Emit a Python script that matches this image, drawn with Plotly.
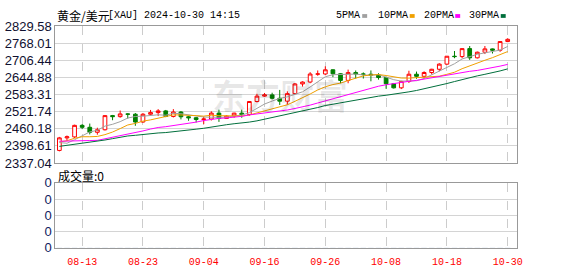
import plotly.graph_objects as go
import pandas as pd

# ---------------- data ----------------
dates = ["08-08", "08-09", "08-12", "08-13", "08-14", "08-15", "08-16", "08-19", "08-20", "08-21",
         "08-22", "08-23", "08-26", "08-27", "08-28", "08-29", "08-30", "09-02", "09-03", "09-04",
         "09-05", "09-06", "09-09", "09-10", "09-11", "09-12", "09-13", "09-16", "09-17", "09-18",
         "09-19", "09-20", "09-23", "09-24", "09-25", "09-26", "09-27", "09-30", "10-01", "10-02",
         "10-03", "10-04", "10-07", "10-08", "10-09", "10-10", "10-11", "10-14", "10-15", "10-16",
         "10-17", "10-18", "10-21", "10-22", "10-23", "10-24", "10-25", "10-28", "10-29", "10-30"]

opens = [2382.4, 2427.5, 2431.0, 2472.5, 2465.6, 2447.6, 2456.7, 2507.6, 2504.0, 2513.7,
         2512.6, 2484.6, 2512.5, 2518.5, 2524.6, 2504.6, 2520.6, 2503.4, 2499.9, 2493.6,
         2495.4, 2516.6, 2497.5, 2505.9, 2516.5, 2511.6, 2558.4, 2577.7, 2582.1, 2569.9,
         2559.6, 2586.6, 2621.5, 2628.4, 2656.9, 2657.4, 2672.4, 2658.1, 2634.3, 2662.4,
         2657.4, 2656.5, 2653.5, 2644.6, 2622.2, 2607.5, 2630.6, 2656.5, 2649.0, 2662.6,
         2674.3, 2692.8, 2721.2, 2719.9, 2748.6, 2715.5, 2735.6, 2747.6, 2742.8, 2774.0]

highs = [2431.0, 2436.0, 2475.0, 2477.0, 2479.0, 2464.0, 2509.0, 2510.0, 2526.0, 2516.0,
         2517.0, 2517.0, 2528.0, 2531.0, 2528.0, 2531.0, 2524.0, 2507.0, 2503.0, 2503.0,
         2523.0, 2529.0, 2509.0, 2518.0, 2529.0, 2560.0, 2586.0, 2589.0, 2590.0, 2600.0,
         2595.0, 2625.0, 2631.0, 2664.0, 2670.0, 2685.0, 2674.0, 2660.0, 2673.0, 2670.0,
         2663.0, 2670.0, 2660.0, 2648.0, 2625.0, 2633.0, 2669.0, 2666.0, 2667.0, 2676.0,
         2696.0, 2722.0, 2740.0, 2749.0, 2758.0, 2738.0, 2758.0, 2749.0, 2775.0, 2786.0]

lows = [2379.0, 2417.0, 2427.0, 2459.0, 2440.0, 2439.0, 2454.0, 2491.0, 2500.0, 2497.0,
        2471.0, 2482.0, 2510.0, 2506.0, 2502.0, 2501.0, 2494.0, 2489.0, 2483.0, 2477.0,
        2490.0, 2485.0, 2496.0, 2500.0, 2500.0, 2507.0, 2555.0, 2575.0, 2566.0, 2546.0,
        2547.0, 2584.0, 2612.0, 2624.0, 2651.0, 2653.0, 2646.0, 2624.0, 2624.0, 2641.0,
        2641.0, 2631.0, 2637.0, 2604.0, 2605.0, 2603.0, 2625.0, 2640.0, 2641.0, 2656.0,
        2667.0, 2690.0, 2714.0, 2714.0, 2708.0, 2713.0, 2729.0, 2731.0, 2737.0, 2772.0]

closes = [2427.5, 2431.3, 2472.5, 2465.6, 2447.6, 2456.7, 2507.6, 2504.0, 2513.7, 2512.6,
          2484.6, 2512.5, 2518.5, 2524.6, 2504.6, 2520.6, 2503.4, 2499.9, 2493.6, 2495.4,
          2516.6, 2497.5, 2505.9, 2516.5, 2511.6, 2558.4, 2577.7, 2582.1, 2569.9, 2559.6,
          2586.6, 2621.5, 2628.4, 2657.3, 2657.4, 2672.4, 2658.1, 2634.3, 2662.4, 2657.4,
          2656.5, 2653.5, 2644.6, 2622.2, 2607.5, 2630.6, 2656.5, 2649.0, 2662.6, 2674.3,
          2692.8, 2721.2, 2719.9, 2748.6, 2715.5, 2735.6, 2747.6, 2742.8, 2774.0, 2782.0]

# closes of the 29 sessions before the first shown candle (for the moving averages)
prior_closes = [2326.6, 2331.9, 2329.8, 2356.3, 2356.6, 2391.9, 2359.0, 2364.3, 2371.4, 2414.9,
                2411.4, 2422.8, 2469.4, 2459.3, 2445.2, 2400.8, 2396.4, 2409.4, 2398.1, 2364.6,
                2387.2, 2384.0, 2410.7, 2447.6, 2446.2, 2442.9, 2409.6, 2390.4, 2382.4]

volumes = [0] * len(dates)

ma_periods = [5, 10, 20, 30]
ma_names = ["5PMA", "10PMA", "20PMA", "30PMA"]
ma_colors = ["#a0a0a0", "#f0a000", "#ff00ff", "#006f3c"]

y_ticks = [2337.04, 2398.61, 2460.18, 2521.74, 2583.31, 2644.88, 2706.44, 2768.01, 2829.58]
x_tick_labels = ["08-13", "08-23", "09-04", "09-16", "09-26", "10-08", "10-18", "10-30"]
vol_ticks = [0, 1, 2, 3, 4]

title_cn = "黄金/美元"
title_rest = "[XAU] 2024-10-30 14:15"
vol_label = "成交量:0"

# ---------------- layout helpers ----------------
W, H = 578, 276
def px(x):
    return x / W
def py(y):
    return 1 - y / H

X0, X1 = 56, 522
MAIN_T, MAIN_B = 20.2, 165
VOL_T, VOL_B = 186, 254.5

fig = go.Figure()

fig.add_trace(go.Candlestick(
    x=dates, open=opens, high=highs, low=lows, close=closes,
    increasing=dict(line=dict(color="#ff0000", width=1), fillcolor="#ffffff"),
    decreasing=dict(line=dict(color="#008000", width=1), fillcolor="#008000"),
    whiskerwidth=0, showlegend=False, xaxis="x", yaxis="y", hoverinfo="skip",
))

all_closes = pd.Series(prior_closes + closes)
for n, name, col in zip(ma_periods, ma_names, ma_colors):
    ma = all_closes.rolling(n).mean().iloc[len(prior_closes):].tolist()
    fig.add_trace(go.Scatter(x=dates, y=ma, mode="lines", name=name,
                             line=dict(color=col, width=1), showlegend=False,
                             xaxis="x", yaxis="y", hoverinfo="skip"))

fig.add_trace(go.Bar(x=dates, y=volumes, marker_color="#ff0000", showlegend=False,
                     xaxis="x2", yaxis="y2", hoverinfo="skip"))

xr = [-0.52, len(dates) - 1 + 1.17]
grid_common = dict(showgrid=True, gridcolor="#cccccc", gridwidth=1, griddash="dash",
                   showline=True, linecolor="#999999", linewidth=1, mirror=True,
                   zeroline=False, fixedrange=True)

fig.update_layout(
    width=W, height=H, autosize=False,
    margin=dict(l=0, r=0, t=0, b=0, pad=0),
    paper_bgcolor="#ffffff", plot_bgcolor="#ffffff",
    showlegend=False,
    bargap=0.3,
    xaxis=dict(domain=[px(X0), px(X1)], anchor="y", type="category", range=xr,
               tickmode="array", tickvals=x_tick_labels, showticklabels=False,
               ticks="", rangeslider=dict(visible=False), **grid_common),
    xaxis2=dict(domain=[px(X0), px(X1)], anchor="y2", type="category", range=xr,
                tickmode="array", tickvals=x_tick_labels, ticktext=x_tick_labels,
                showticklabels=True, ticks="outside", ticklen=4, tickcolor="rgba(0,0,0,0)",
                tickfont=dict(family="Liberation Mono", size=10, color="#ff0000"),
                **grid_common),
    yaxis=dict(domain=[py(MAIN_B), py(MAIN_T)], anchor="x", range=[y_ticks[0], y_ticks[-1]],
               tickmode="array", tickvals=y_ticks, ticktext=[f"{v:.2f}" for v in y_ticks],
               tickfont=dict(family="Liberation Sans", size=13, color="#101030"),
               showgrid=True, gridcolor="#d4d4d4", gridwidth=1,
               showline=True, linecolor="#999999", linewidth=1, mirror=True,
               ticks="", zeroline=False, fixedrange=True),
    yaxis2=dict(domain=[py(VOL_B), py(VOL_T)], anchor="x2", range=[0, 4],
                tickmode="array", tickvals=vol_ticks, ticktext=["0"] * len(vol_ticks),
                tickfont=dict(family="Liberation Sans", size=13, color="#102060"),
                showgrid=True, gridcolor="#d4d4d4", gridwidth=1,
                showline=True, linecolor="#999999", linewidth=1, mirror=True,
                ticks="", zeroline=False, fixedrange=True),
)

annotations = [
    dict(text=title_cn, x=px(56), y=py(9.5), xanchor="left", yanchor="middle",
         font=dict(family="Noto Sans CJK SC", size=12, color="#000000")),
    dict(text=title_rest, x=px(107), y=py(9.5), xanchor="left", yanchor="middle",
         font=dict(family="Liberation Mono", size=10, color="#000000")),
    dict(text=vol_label, x=px(57), y=py(178), xanchor="left", yanchor="middle",
         font=dict(family="Noto Sans CJK SC", size=12, color="#000000")),
    dict(text="<b>东方财富</b>", x=px(283), y=py(93), xanchor="center", yanchor="middle",
         font=dict(family="Noto Sans CJK SC", size=34, color="rgba(0,0,0,0.09)")),
]
legend_x = [338, 380, 426, 472]
shapes = []
for name, col, lx in zip(ma_names, ma_colors, legend_x):
    annotations.append(dict(text=name, x=px(lx), y=py(9.5), xanchor="left", yanchor="middle",
                            font=dict(family="Liberation Mono", size=10, color="#000000")))
    sx = lx + 6 * len(name) + 4
    shapes.append(dict(type="rect", xref="paper", yref="paper",
                       x0=px(sx), x1=px(sx + 5), y0=py(11.5), y1=py(7.5),
                       fillcolor=col, line=dict(width=0)))
for a in annotations:
    a.update(xref="paper", yref="paper", showarrow=False)

fig.update_layout(annotations=annotations, shapes=shapes)

fig.write_html("out.html", config={"displayModeBar": False})
